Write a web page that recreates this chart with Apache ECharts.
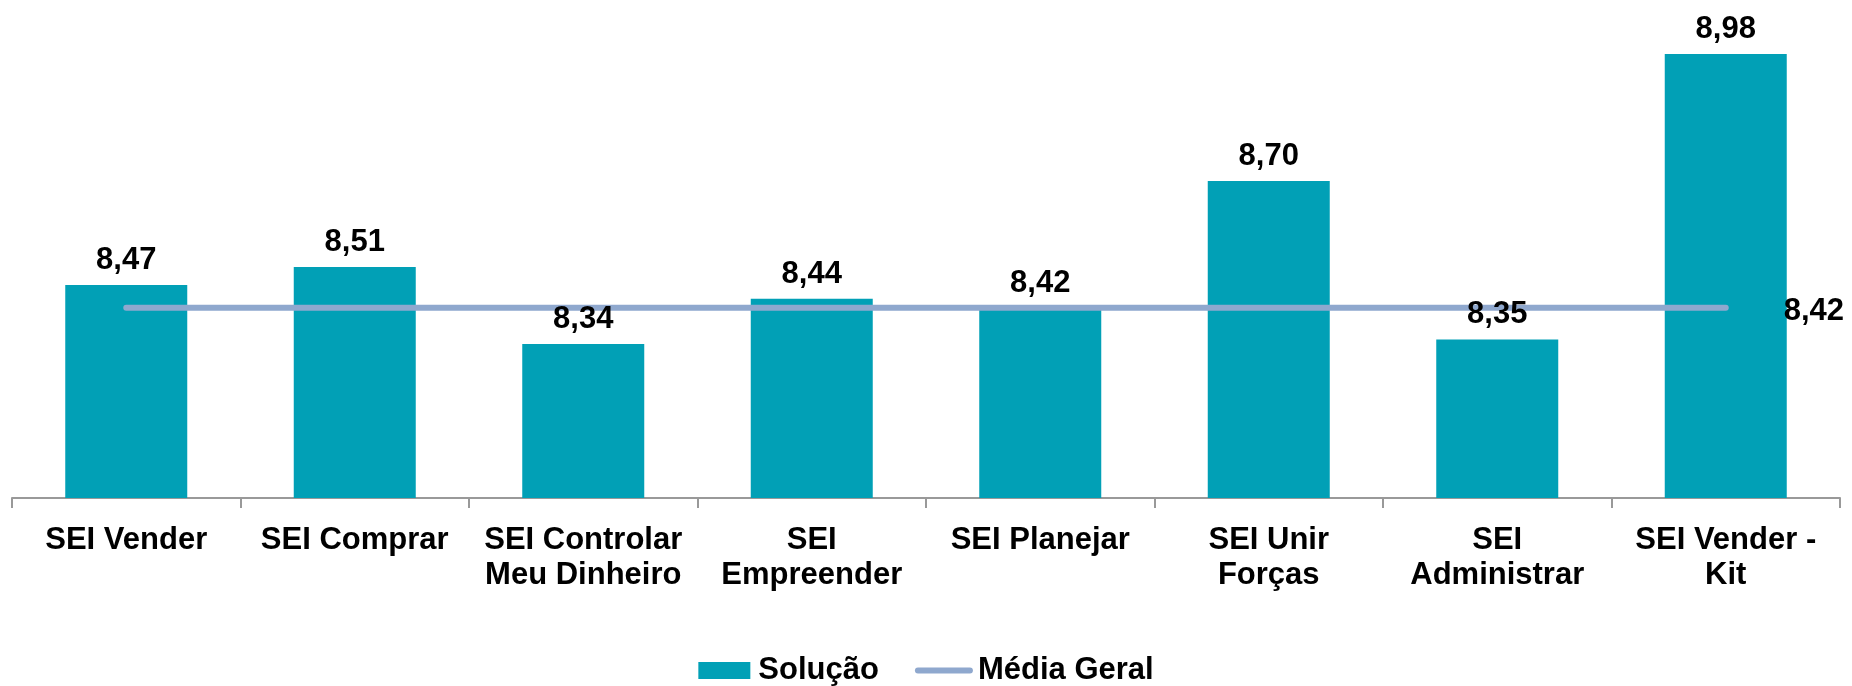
<!DOCTYPE html>
<html>
<head>
<meta charset="utf-8">
<script src="https://cdn.jsdelivr.net/npm/echarts@6/dist/echarts.min.js"></script>
<style>
  html, body { margin: 0; padding: 0; background: #fff; }
  #chart { width: 1852px; height: 686px; }
</style>
</head>
<body>
<div id="chart"></div>
<script>
const categories = [
  'SEI Vender',
  'SEI Comprar',
  'SEI Controlar\nMeu Dinheiro',
  'SEI\nEmpreender',
  'SEI Planejar',
  'SEI Unir\nForças',
  'SEI\nAdministrar',
  'SEI Vender -\nKit'
];
const solucao = [8.47, 8.51, 8.34, 8.44, 8.42, 8.70, 8.35, 8.98];
const mediaGeral = [8.42, 8.42, 8.42, 8.42, 8.42, 8.42, 8.42, 8.42];

const FONT = '"Liberation Sans", Arial, sans-serif';
const BAR_COLOR = '#01A0B6';
const LINE_COLOR = '#8FA8CE';
const fmt = (v) => v.toFixed(2).replace('.', ',');

const labelText = {
  fontFamily: FONT,
  fontSize: 31,
  fontWeight: 'bold',
  color: '#000'
};

const chart = echarts.init(document.getElementById('chart'));

const option = {
  animation: false,
  textStyle: { fontFamily: FONT },
  grid: {
    left: 12,
    right: 12,
    top: 45,
    bottom: 188
  },
  legend: {
    bottom: -5,
    left: 'center',
    itemWidth: 52,
    itemHeight: 17,
    itemGap: 36,
    textStyle: Object.assign({ padding: [0, 0, 0, 3] }, labelText),
    data: [
      { name: 'Solução', icon: 'rect' },
      {
        name: 'Média Geral',
        itemStyle: { color: 'rgba(0,0,0,0)', borderColor: 'rgba(0,0,0,0)', borderWidth: 0 },
        lineStyle: { color: LINE_COLOR, width: 6, cap: 'round' }
      }
    ]
  },
  xAxis: {
    type: 'category',
    data: categories,
    axisLine: { lineStyle: { color: '#999', width: 2 } },
    axisTick: { show: true, length: 10, lineStyle: { color: '#999', width: 2 } },
    axisLabel: Object.assign({
      interval: 0,
      margin: 25,
      lineHeight: 35,
      align: 'center'
    }, labelText)
  },
  yAxis: {
    type: 'value',
    min: 8,
    max: 9,
    show: false,
    splitLine: { show: false }
  },
  series: [
    {
      name: 'Solução',
      type: 'bar',
      data: solucao,
      barWidth: 122,
      z: 2,
      itemStyle: { color: BAR_COLOR }
    },
    {
      name: 'Média Geral',
      type: 'line',
      data: mediaGeral,
      symbol: 'none',
      z: 3,
      lineStyle: { color: LINE_COLOR, width: 6, cap: 'round' },
      itemStyle: { color: LINE_COLOR },
      endLabel: Object.assign({
        show: true,
        distance: 58,
        offset: [0, 4],
        formatter: (p) => fmt(p.value)
      }, labelText)
    },
    {
      // value labels drawn above the average line
      name: 'rotulos',
      type: 'bar',
      data: solucao,
      barWidth: 122,
      barGap: '-100%',
      z: 5,
      silent: true,
      itemStyle: { color: 'rgba(0,0,0,0)' },
      label: Object.assign({
        show: true,
        position: 'top',
        distance: 9,
        formatter: (p) => fmt(p.value)
      }, labelText)
    }
  ]
};

chart.setOption(option);
</script>
</body>
</html>
